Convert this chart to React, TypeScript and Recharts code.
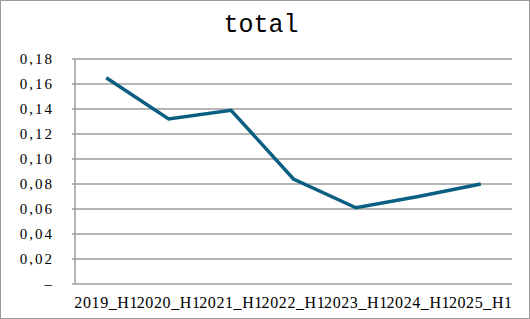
import { LineChart, Line, XAxis, YAxis, CartesianGrid } from 'recharts';

const periods = ['2019_H1', '2020_H1', '2021_H1', '2022_H1', '2023_H1', '2024_H1', '2025_H1'];
const totals = [0.165, 0.132, 0.139, 0.084, 0.061, 0.07, 0.08];
const yTicks = [0, 0.02, 0.04, 0.06, 0.08, 0.1, 0.12, 0.14, 0.16, 0.18];
const boundaryTicks = [-0.5, 0.5, 1.5, 2.5, 3.5, 4.5, 5.5, 6.5];

const data = periods.map((period, i) => ({ period, idx: i, total: totals[i] }));

const GRAY = '#9c9c9c';
const SERIF = 'Liberation Serif, Times New Roman, serif';

const fmtY = (v: number) => (v === 0 ? '–' : v.toFixed(2).replace('.', ','));

export default function App() {
  return (
    <div
      style={{
        position: 'absolute',
        left: 0,
        top: 0,
        width: 530,
        height: 319,
        boxSizing: 'border-box',
        border: '1px solid #9a9a9a',
        background: '#fff',
      }}
    >
      <div
        style={{
          position: 'absolute',
          left: 0,
          width: 520,
          top: 10,
          textAlign: 'center',
          fontFamily: 'Liberation Mono, Courier New, monospace',
          fontSize: 25,
          color: '#000',
          lineHeight: '30px',
        }}
      >
        total
      </div>
      <LineChart
        width={528}
        height={317}
        data={data}
        margin={{ top: 58, right: 17, bottom: 4, left: 0 }}
        style={{ position: 'absolute', left: 0, top: 0 }}
      >
        <CartesianGrid vertical={false} stroke={GRAY} strokeWidth={1.5} />
        <XAxis
          xAxisId="bounds"
          dataKey="idx"
          type="number"
          domain={[-0.5, 6.5]}
          ticks={boundaryTicks}
          tick={false}
          height={0}
          tickSize={3}
          axisLine={{ stroke: GRAY, strokeWidth: 1.5 }}
          tickLine={{ stroke: GRAY, strokeWidth: 1.5 }}
        />
        <XAxis
          xAxisId="cat"
          dataKey="period"
          scale="band"
          height={30}
          axisLine={false}
          tickLine={false}
          interval={0}
          tickMargin={7}
          tick={{ fill: '#000', fontSize: 16, fontFamily: SERIF, letterSpacing: 0.6 }}
        />
        <YAxis
          width={74}
          domain={[0, 0.18]}
          ticks={yTicks}
          interval={0}
          tickFormatter={fmtY}
          tickSize={3}
          tickMargin={18}
          axisLine={{ stroke: GRAY, strokeWidth: 1.5 }}
          tickLine={{ stroke: GRAY, strokeWidth: 1.5 }}
          tick={{ fill: '#000', fontSize: 15, fontFamily: SERIF, letterSpacing: 2 }}
        />
        <Line
          xAxisId="cat"
          type="linear"
          dataKey="total"
          stroke="#0b5f80"
          strokeWidth={3.5}
          dot={false}
          isAnimationActive={false}
        />
      </LineChart>
    </div>
  );
}
